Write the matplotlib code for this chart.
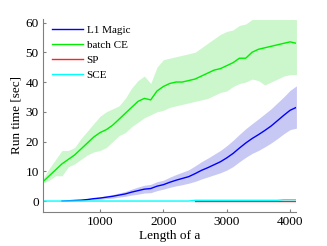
import numpy as np
import matplotlib
matplotlib.use('Agg')
import matplotlib.pyplot as plt

plt.rcParams['font.family'] = ['Liberation Serif', 'DejaVu Serif']

# batch CE, x = 100..4100
x_ce = np.arange(100, 4101, 100)
ce_mean = [6.5, 8.5, 10.5, 12.5, 14, 15.5, 17.5, 19.5, 21.5, 23, 24, 25.5, 27.5, 29.5,
           31.5, 33.5, 34.5, 34, 37, 38.5, 39.5, 40, 40, 40.5, 41, 42, 43, 44, 44.5,
           45.5, 46.5, 48, 48, 50, 51, 51.5, 52, 52.5, 53, 53.5, 53]
ce_hi = [7.5, 11, 14, 17, 17, 18, 21, 23.5, 26, 28.5, 30, 31, 32, 34.5, 38, 40.5, 42,
         39.5, 45, 47.5, 48, 48.5, 49, 49.5, 50, 51.5, 53, 54.5, 56, 57, 57.5, 59, 59.5,
         61, 61, 61, 61, 61, 61, 61, 61]
ce_lo = [6, 7, 8.5, 8.5, 11.5, 12.5, 14, 15.5, 16.5, 17, 18, 20, 22, 23, 25, 26.5, 28,
         29, 30, 30.5, 31.5, 32, 32.5, 33, 33.5, 34, 34.5, 35.5, 36.5, 37, 38.5, 39.5,
         40, 41, 40.5, 39, 40, 41, 42, 42.5, 42.5]

# L1 Magic, x = 400..4100
x_l1 = np.arange(400, 4101, 100)
l1_mean = [0, 0.1, 0.2, 0.3, 0.5, 0.8, 1, 1.3, 1.6, 2, 2.4, 3, 3.5, 4, 4.2, 5, 5.5,
           6.3, 7, 7.6, 8.2, 9.2, 10.3, 11.2, 12.2, 13.2, 14.5, 16, 17.8, 19.5, 21,
           22.3, 23.7, 25.2, 27, 28.8, 30.5, 31.5]
l1_hi = [0, 0.2, 0.3, 0.5, 0.7, 1.1, 1.4, 1.8, 2.2, 2.7, 3.2, 4, 4.7, 5.3, 5.6, 6.5,
         7, 8, 8.9, 9.7, 10.5, 11.8, 13.2, 14.4, 15.7, 17, 18.6, 20.4, 22.4, 24.3,
         26, 27.6, 29.3, 31, 33, 35, 37.2, 38.7]
l1_lo = [0, 0, 0.1, 0.1, 0.3, 0.5, 0.6, 0.8, 1, 1.3, 1.6, 2, 2.3, 2.7, 2.8, 3.5, 4,
         4.6, 5.1, 5.5, 6, 6.6, 7.4, 8.1, 8.8, 9.5, 10.4, 11.6, 13.2, 14.7, 16, 17,
         18.2, 19.5, 21, 22.6, 24, 24.5]

# SP and SCE, near zero
x_sp = np.array([2500, 3900, 4100])
sp = [0, 0, 0]
x_sce = np.array([100, 2400, 2500, 3800, 3900, 4100])
sce = [0, 0, 0.25, 0.25, 0.45, 0.45]

fig = plt.figure(figsize=(3.27, 2.46), dpi=100)
ax = fig.add_axes([0.1315, 0.138, 0.774, 0.785])

ax.fill_between(x_ce, ce_lo, ce_hi, color='#ccf6cc', lw=0)
ax.fill_between(x_l1, l1_lo, l1_hi, color='#c8c8f4', lw=0)
ax.plot(x_l1, l1_mean, color='#0000ff', lw=1.0, label='L1 Magic')
ax.plot(x_ce, ce_mean, color='#00ee00', lw=1.0, label='batch CE')
ax.plot(x_sp, sp, color='#ff2020', lw=1.0, label='SP')
ax.plot(x_sce, sce, color='#00ffff', lw=1.0, label='SCE')

ax.set_xlim(100, 4095)
ax.set_ylim(-3.7, 61.2)
ax.set_xticks([1000, 2000, 3000, 4000])
ax.set_yticks([0, 10, 20, 30, 40, 50, 60])
ax.tick_params(direction='in', length=2.5, color='#808080', labelsize=9.5, pad=3)
for s in ['top', 'right']:
    ax.spines[s].set_visible(False)
for s in ['left', 'bottom']:
    ax.spines[s].set_color('#808080')
ax.set_xlabel('Length of a', fontsize=9.5, labelpad=1)
ax.set_ylabel('Run time [sec]', fontsize=9.5, labelpad=2)

ax.legend(loc='upper left', frameon=False, fontsize=8, handlelength=2.8,
          handletextpad=0.3, labelspacing=0.45, borderaxespad=0.2,
          bbox_to_anchor=(0.01, 1.0))

fig.savefig('out.png', dpi=100)
